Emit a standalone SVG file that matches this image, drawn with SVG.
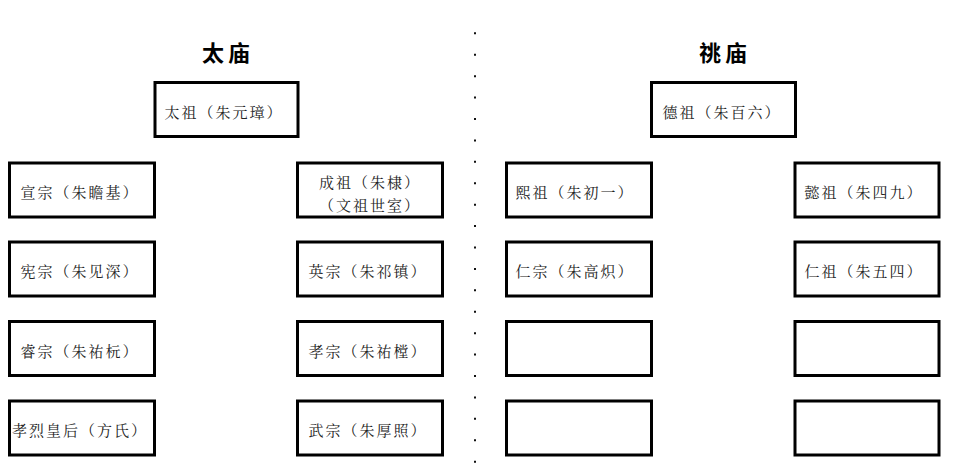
<svg xmlns="http://www.w3.org/2000/svg" width="960" height="474" viewBox="0 0 960 474">
<style>
.box{fill:#fff;stroke:#000;stroke-width:3}
.t{font-family:"Noto Serif CJK SC","Noto Sans CJK SC",serif;font-size:15px;fill:#222;text-anchor:middle;dominant-baseline:central;letter-spacing:2px}
.h{font-family:"Noto Sans CJK SC",sans-serif;font-size:22px;font-weight:bold;fill:#000;text-anchor:middle;dominant-baseline:central;letter-spacing:4px}
</style>
<rect width="960" height="474" fill="#fff"/>
<text class="h" x="228" y="51">太庙</text>
<text class="h" x="725" y="51">祧庙</text>
<g id="divider">
<line x1="475" y1="32.3" x2="475" y2="463" stroke="#111" stroke-width="2" stroke-dasharray="2 19.42"/>
</g>
<g id="connectors"></g>
<g id="taizu"><rect class="box" x="155" y="82.5" width="143" height="54"/><text class="t" x="224" y="111">太祖（朱元璋）</text></g>
<g id="xuanzong"><rect class="box" x="9.5" y="163" width="145" height="54"/><text class="t" x="80" y="191">宣宗（朱瞻基）</text></g>
<g id="chengzu"><rect class="box" x="297.5" y="163" width="145" height="54"/><text class="t" x="370" y="181">成祖（朱棣）</text><text class="t" x="370" y="204">（文祖世室）</text></g>
<g id="xianzong"><rect class="box" x="9.5" y="242" width="145" height="54"/><text class="t" x="80" y="270">宪宗（朱见深）</text></g>
<g id="yingzong"><rect class="box" x="297.5" y="242" width="145" height="54"/><text class="t" x="368" y="270">英宗（朱祁镇）</text></g>
<g id="ruizong"><rect class="box" x="9.5" y="321.5" width="145" height="54"/><text class="t" x="80" y="350">睿宗（朱祐杬）</text></g>
<g id="xiaozong"><rect class="box" x="297.5" y="321.5" width="145" height="54"/><text class="t" x="368" y="350">孝宗（朱祐樘）</text></g>
<g id="xiaolie"><rect class="box" x="9.5" y="401" width="145" height="54"/><text class="t" x="80" y="429">孝烈皇后（方氏）</text></g>
<g id="wuzong"><rect class="box" x="297.5" y="401" width="145" height="54"/><text class="t" x="368" y="429">武宗（朱厚照）</text></g>
<g id="dezu"><rect class="box" x="651.5" y="82.5" width="144" height="54"/><text class="t" x="722" y="111">德祖（朱百六）</text></g>
<g id="xizu"><rect class="box" x="506.5" y="163" width="145" height="54"/><text class="t" x="575" y="191">熙祖（朱初一）</text></g>
<g id="yizu"><rect class="box" x="795" y="163" width="144" height="54"/><text class="t" x="864" y="191">懿祖（朱四九）</text></g>
<g id="renzong"><rect class="box" x="506.5" y="242" width="145" height="54"/><text class="t" x="575" y="270">仁宗（朱高炽）</text></g>
<g id="renzu"><rect class="box" x="795" y="242" width="144" height="54"/><text class="t" x="864" y="270">仁祖（朱五四）</text></g>
<g id="empty1"><rect class="box" x="506.5" y="321.5" width="145" height="54"/></g>
<g id="empty2"><rect class="box" x="795" y="321.5" width="144" height="54"/></g>
<g id="empty3"><rect class="box" x="506.5" y="401" width="145" height="54"/></g>
<g id="empty4"><rect class="box" x="795" y="401" width="144" height="54"/></g>
</svg>
